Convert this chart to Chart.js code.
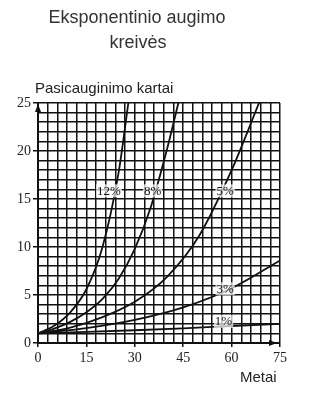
<!DOCTYPE html>
<html>
<head>
<meta charset="utf-8">
<script src="https://cdn.jsdelivr.net/npm/chart.js@4.4.0/dist/chart.umd.min.js"></script>
<style>
  body { margin: 0; background: #fff; }
  #wrap { width: 313px; height: 396px; }
</style>
</head>
<body>
<div id="wrap"><canvas id="curves"></canvas></div>
<script>
// years and growth factors
const years12 = [0, 5, 10, 15, 20, 25, 28];
const vals12  = [1, 1.8, 3.2, 5.6, 10, 17.8, 25];
const years8  = [0, 5, 10, 15, 20, 25, 30, 35, 40, 43.5];
const vals8   = [1, 1.5, 2.2, 3.2, 4.6, 6.7, 9.8, 14.2, 20.2, 25];
const years5  = [0, 10, 20, 30, 40, 50, 60, 68.5];
const vals5   = [1, 1.6, 2.7, 4.3, 6.9, 11.2, 18, 25];
const years3  = [0, 15, 30, 45, 60, 75];
const vals3   = [1, 1.55, 2.4, 3.7, 5.7, 8.6];
const years1  = [0, 15, 30, 45, 60, 75];
const vals1   = [1, 1.15, 1.33, 1.53, 1.77, 2.0];

const curveNames = ['12%', '8%', '5%', '3%', '1%'];
const labelYears = [22, 35.5, 58, 58, 57.5];
const labelVals  = [15.8, 15.8, 15.8, 5.6, 2.2];

const xTicks = [0, 15, 30, 45, 60, 75];
const yTicks = [0, 5, 10, 15, 20, 25];

const pts = (xs, ys) => xs.map((x, i) => ({ x: x, y: ys[i] }));

const lineStyle = {
  borderColor: '#111',
  borderWidth: 1.8,
  pointRadius: 0,
  cubicInterpolationMode: 'monotone',
  fill: false
};

const textPlugin = {
  id: 'texts',
  afterDraw(chart) {
    const ctx = chart.ctx;
    const xs = chart.scales.x, ys = chart.scales.y;
    ctx.save();
    // title
    ctx.fillStyle = '#333';
    ctx.font = '18px "Liberation Sans", Arial, sans-serif';
    ctx.textAlign = 'center';
    ctx.textBaseline = 'middle';
    ctx.fillText('Eksponentinio augimo', 137, 18);
    ctx.fillText('kreivės', 138, 43);
    // axis titles
    ctx.fillStyle = '#222';
    ctx.font = '15px "Liberation Sans", Arial, sans-serif';
    ctx.textAlign = 'left';
    ctx.fillText('Pasicauginimo kartai', 35, 89);
    ctx.fillText('Metai', 240, 378);
    // curve labels
    ctx.font = '13px "Liberation Serif", serif';
    ctx.textAlign = 'center';
    curveNames.forEach((name, i) => {
      const px = xs.getPixelForValue(labelYears[i]);
      const py = ys.getPixelForValue(labelVals[i]);
      const w = ctx.measureText(name).width;
      ctx.fillStyle = 'rgba(255,255,255,0.7)';
      ctx.fillRect(px - w / 2 - 1, py - 7, w + 2, 13);
      ctx.fillStyle = '#111';
      ctx.fillText(name, px, py);
    });
    // arrow heads
    const a = chart.chartArea;
    ctx.fillStyle = '#111';
    ctx.beginPath();
    ctx.moveTo(a.left, a.top + 1);
    ctx.lineTo(a.left - 3, a.top + 9);
    ctx.lineTo(a.left + 3, a.top + 9);
    ctx.fill();
    ctx.beginPath();
    ctx.moveTo(a.right - 3, a.bottom);
    ctx.lineTo(a.right - 11, a.bottom - 3);
    ctx.lineTo(a.right - 11, a.bottom + 3);
    ctx.fill();
    ctx.restore();
  }
};

new Chart(document.getElementById('curves'), {
  type: 'line',
  data: {
    datasets: [
      Object.assign({ label: '12%', data: pts(years12, vals12) }, lineStyle),
      Object.assign({ label: '8%', data: pts(years8, vals8) }, lineStyle),
      Object.assign({ label: '5%', data: pts(years5, vals5) }, lineStyle),
      Object.assign({ label: '3%', data: pts(years3, vals3) }, lineStyle),
      Object.assign({ label: '1%', data: pts(years1, vals1) }, lineStyle)
    ]
  },
  options: {
    responsive: true,
    maintainAspectRatio: false,
    animation: false,
    layout: { padding: { top: 103, right: 33, left: 0, bottom: 0 } },
    plugins: { legend: { display: false }, tooltip: { enabled: false } },
    scales: {
      x: {
        type: 'linear',
        min: 0, max: 75,
        afterFit: s => { s.height = 53; },
        border: { color: '#111', width: 2 },
        grid: {
          color: '#111', lineWidth: 1.5, tickLength: 4,
          tickColor: c => xTicks.includes(c.tick.value) ? '#111' : 'rgba(0,0,0,0)'
        },
        ticks: {
          stepSize: 3, autoSkip: false, maxRotation: 0, color: '#222',
          font: { family: '"Liberation Serif", serif', size: 14 },
          callback: v => xTicks.includes(v) ? String(v) : ''
        }
      },
      y: {
        min: 0, max: 25,
        afterFit: s => { s.width = 38; },
        border: { color: '#111', width: 2 },
        grid: {
          color: '#111', lineWidth: 1.5, tickLength: 5,
          tickColor: c => yTicks.includes(c.tick.value) ? '#111' : 'rgba(0,0,0,0)'
        },
        ticks: {
          stepSize: 1, autoSkip: false, color: '#222', padding: 2,
          font: { family: '"Liberation Serif", serif', size: 14 },
          callback: v => yTicks.includes(v) ? String(v) : ''
        }
      }
    }
  },
  plugins: [textPlugin]
});
</script>
</body>
</html>
